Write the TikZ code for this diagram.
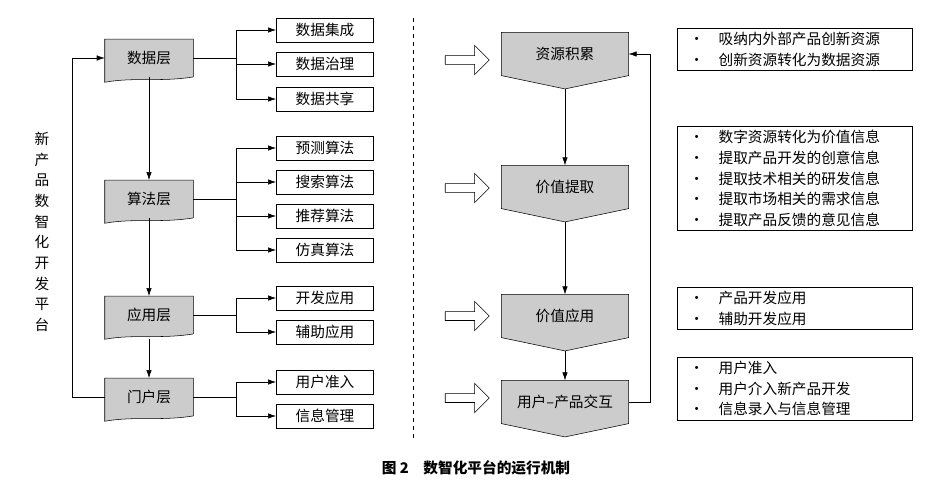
\documentclass[tikz,border=0pt]{standalone}
\usepackage{fontspec}
\setmainfont{Noto Sans CJK SC}
\usetikzlibrary{backgrounds,arrows.meta,shapes.arrows}
\begin{document}
\begin{tikzpicture}[x=0.75pt, y=-0.75pt, font=\fontsize{11}{15.5}\selectfont,
  layer/.style={align=center, minimum width=66pt, minimum height=28pt, inner sep=0pt},
  stage/.style={align=center, minimum width=95pt, minimum height=32pt, inner sep=0pt},
  item/.style={draw, align=center, minimum width=73pt, minimum height=18pt, inner sep=0pt},
  note/.style={draw, align=left, text width=158pt, inner xsep=9pt, inner ysep=3pt, anchor=north west},
  flow/.style={-{Latex[length=6pt,width=4pt]}},
  hollow/.style={single arrow, draw, minimum height=33pt, minimum width=22pt, single arrow head extend=5pt, inner sep=2pt},
]
\useasboundingbox (0,0) rectangle (952,503);
% left: layers
\node[layer] (data) at (149,58) {数据层};
\node[layer] (algo) at (149,199) {算法层};
\node[layer] (app) at (149,315) {应用层};
\node[layer] (portal) at (149,397) {门户层};
\begin{scope}[on background layer]
\foreach \n in {data,algo,app,portal}
  \draw[fill=black!20] (\n.north west) -- (\n.north east) -- (\n.south east)
    .. controls ++(-25pt,-4pt) and ++(22pt,4pt) .. ([yshift=-4pt]\n.south west) -- cycle;
\end{scope}
\node[item] (d1) at (325,30) {数据集成};
\node[item] (d2) at (325,64) {数据治理};
\node[item] (d3) at (325,99) {数据共享};
\node[item] (a1) at (325,148) {预测算法};
\node[item] (a2) at (325,182) {搜索算法};
\node[item] (a3) at (325,216) {推荐算法};
\node[item] (a4) at (325,250) {仿真算法};
\node[item] (p1) at (325,298) {开发应用};
\node[item] (p2) at (325,332) {辅助应用};
\node[item] (u1) at (325,382) {用户准入};
\node[item] (u2) at (325,416) {信息管理};
\foreach \s/\t in {data/d1,data/d2,data/d3,algo/a1,algo/a2,algo/a3,algo/a4,app/p1,app/p2,portal/u1,portal/u2}
  \draw[flow] (\s.east) -- (236,0 |- \s.east) |- (\t.west);
\draw[flow] (data.south) -- (algo.north);
\draw[flow] (algo.south) -- (app.north);
\draw[flow] ([yshift=-4pt]app.south) -- (portal.north);
\draw[flow] (portal.west) -- (72,397) |- (data.west);
\node[align=center, inner sep=0pt] (title) at (42,232) {新\\产\\品\\数\\智\\化\\开\\发\\平\\台};
\draw[dashed] (413,18) -- (413,440);
% right: stages
\node[stage] (res) at (565,54) {资源积累};
\node[stage] (val) at (565,187) {价值提取};
\node[stage] (use) at (565,316) {价值应用};
\node[stage] (inter) at (565,402) {用户–产品交互};
\begin{scope}[on background layer]
\foreach \n in {res,val,use,inter}
  \draw[fill=black!20] (\n.north west) -- (\n.north east) -- (\n.south east)
    -- ([yshift=-10pt]\n.south) -- (\n.south west) -- cycle;
\end{scope}
\foreach \n/\y in {res/60,val/188,use/316,inter/398}
  \node[hollow] (h\n) at (465,\y) {};
\draw[flow] ([yshift=-10pt]res.south) -- (val.north);
\draw[flow] ([yshift=-10pt]val.south) -- (use.north);
\draw[flow] ([yshift=-10pt]use.south) -- (inter.north);
\draw[flow] (inter.east) -- (650,402) |- (res.east);
\node[note] (n1) at (677,28) {·\quad 吸纳内外部产品创新资源\\·\quad 创新资源转化为数据资源};
\node[note] (n2) at (677,126) {·\quad 数字资源转化为价值信息\\·\quad 提取产品开发的创意信息\\·\quad 提取技术相关的研发信息\\·\quad 提取市场相关的需求信息\\·\quad 提取产品反馈的意见信息};
\node[note] (n3) at (677,287) {·\quad 产品开发应用\\·\quad 辅助开发应用};
\node[note] (n4) at (677,357) {·\quad 用户准入\\·\quad 用户介入新产品开发\\·\quad 信息录入与信息管理};
\node[font=\bfseries\fontsize{11}{13}\selectfont] (cap) at (476,468) {图 2\quad 数智化平台的运行机制};
\end{tikzpicture}
\end{document}
